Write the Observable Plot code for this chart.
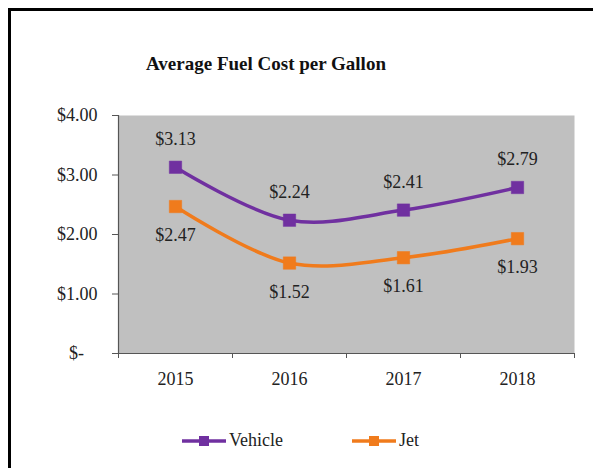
<!DOCTYPE html>
<html>
<head>
<meta charset="utf-8">
<script src="https://cdn.jsdelivr.net/npm/d3@7"></script>
<script src="https://cdn.jsdelivr.net/npm/@observablehq/plot@0.6"></script>
<style>
  html, body { margin: 0; padding: 0; background: #fff; }
  #page { position: relative; width: 593px; height: 468px; overflow: hidden; background: #fff; font-family: "Liberation Serif", "Times New Roman", serif; }
  #frame { position: absolute; left: 8px; top: 8px; width: 700px; height: 600px; border-left: 3px solid #000; border-top: 3px solid #000; }
  #title { position: absolute; left: 0; width: 532px; top: 53px; text-align: center; font-weight: bold; font-size: 19px; color: #111; }
  #chart { position: absolute; left: 0; top: 0; }
  .leg { position: absolute; top: 430px; display: flex; align-items: center; font-size: 18px; color: #222; }
  .leg svg { margin-right: 3px; }
</style>
</head>
<body>
<div id="page">
  <div id="frame"></div>
  <div id="chart"></div>
  <div id="title">Average Fuel Cost per Gallon</div>
  <div id="legend"></div>
</div>
<script>
const years = [2015, 2016, 2017, 2018];
const seriesNames = ["Vehicle", "Jet"];
const vehicle = [3.13, 2.24, 2.41, 2.79];
const jet = [2.47, 1.52, 1.61, 1.93];
const colors = ["#7030A0", "#F07B1C"];
const yTicks = [0, 1, 2, 3, 4];

const data = [];
years.forEach((yr, i) => {
  data.push({year: yr, series: "Vehicle", value: vehicle[i]});
  data.push({year: yr, series: "Jet", value: jet[i]});
});
const xDomain = [years[0] - 0.5, years[years.length - 1] + 0.5];
const bounds = [years[0] - 0.5, ...years.map(y => y + 0.5)];
const fmt = d => "$" + d.toFixed(2);

const chart = Plot.plot({
  width: 593,
  height: 400,
  marginLeft: 118,
  marginRight: 19,
  marginTop: 115,
  marginBottom: 47,
  style: {fontFamily: "'Liberation Serif', 'Times New Roman', serif", fontSize: "18px", color: "#222", background: "transparent", overflow: "visible"},
  x: {type: "linear", domain: xDomain},
  y: {domain: [0, 4]},
  color: {domain: seriesNames, range: colors},
  marks: [
    Plot.frame({fill: "#C0C0C0", stroke: "none"}),
    Plot.ruleX([xDomain[0]], {stroke: "#555", strokeWidth: 1.2}),
    Plot.ruleY([0], {stroke: "#555", strokeWidth: 1.2}),
    Plot.axisY({ticks: yTicks, tickSize: 6, tickPadding: 15, tickFormat: d => d === 0 ? "$-   " : fmt(d), label: null, stroke: "#555"}),
    Plot.axisX({ticks: bounds, tickSize: 5, tickFormat: () => "", label: null, stroke: "#555"}),
    Plot.axisX({ticks: years, tickSize: 0, tickPadding: 19, tickFormat: d => String(d), label: null}),
    Plot.line(data, {x: "year", y: "value", stroke: "series", z: "series", curve: "catmull-rom", strokeWidth: 3.5}),
    Plot.dot(data, {x: "year", y: "value", fill: "series", symbol: "square", r: 7, stroke: "series", strokeWidth: 0.5}),
    Plot.text(data.filter(d => d.series === "Vehicle"), {x: "year", y: "value", text: d => fmt(d.value), dy: -28, fill: "#222", fontSize: 18}),
    Plot.text(data.filter(d => d.series === "Jet"), {x: "year", y: "value", text: d => fmt(d.value), dy: 29, fill: "#222", fontSize: 18})
  ]
});
document.getElementById("chart").appendChild(chart);

const legend = document.getElementById("legend");
const legLeft = [182, 352];
seriesNames.forEach((name, i) => {
  const div = document.createElement("div");
  div.className = "leg";
  div.style.left = legLeft[i] + "px";
  div.innerHTML = `<svg width="44" height="20"><line x1="0" y1="10" x2="44" y2="10" stroke="${colors[i]}" stroke-width="3.5"/><rect x="17" y="5" width="10" height="10" fill="${colors[i]}"/></svg><span>${name}</span>`;
  legend.appendChild(div);
});
</script>
</body>
</html>
